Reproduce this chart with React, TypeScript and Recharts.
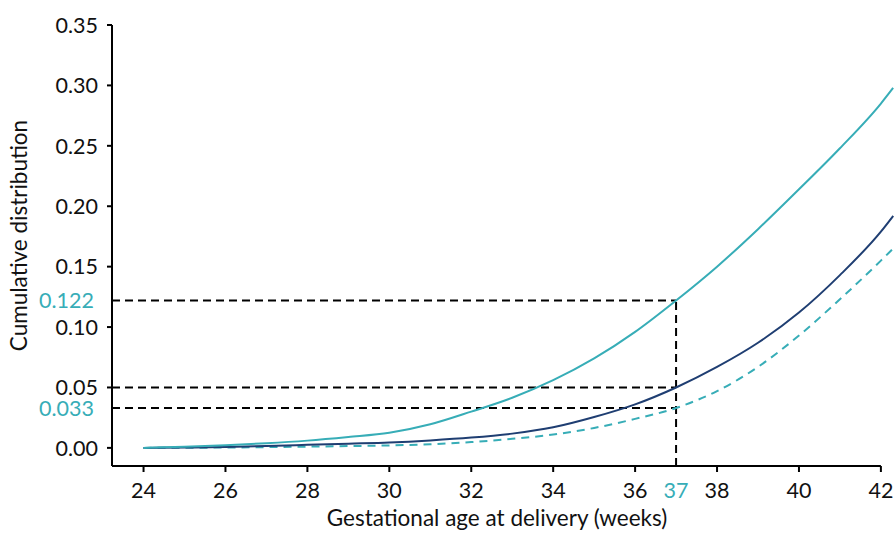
import { LineChart, Line, XAxis, YAxis, ReferenceLine } from 'recharts';

// gestational age (weeks); last point is where the curves leave the frame
const weeks = [24, 25, 26, 27, 28, 29, 30, 31, 32, 33, 34, 35, 36, 37, 38, 39, 40, 41, 42, 42.3];
const tealSolid = [0, 0.001, 0.0022, 0.0038, 0.006, 0.009, 0.0125, 0.0195, 0.03, 0.0415, 0.056, 0.074, 0.096, 0.122, 0.15, 0.181, 0.214, 0.248, 0.285, 0.298];
const navySolid = [0, 0.0003, 0.0008, 0.0015, 0.0025, 0.0035, 0.0045, 0.0062, 0.0085, 0.0118, 0.017, 0.0255, 0.036, 0.05, 0.067, 0.087, 0.112, 0.143, 0.179, 0.192];
const tealDashed = [0, 0.0001, 0.0003, 0.0006, 0.001, 0.0015, 0.002, 0.003, 0.0048, 0.0075, 0.011, 0.0165, 0.024, 0.033, 0.047, 0.067, 0.093, 0.123, 0.155, 0.165];

const xTicks = [24, 26, 28, 30, 32, 34, 36, 37, 38, 40, 42];
const yTicks = [0, 0.033, 0.05, 0.1, 0.122, 0.15, 0.2, 0.25, 0.3, 0.35];
const cutoffWeek = 37;
const cutoffValues = [0.122, 0.05, 0.033];
const highlightY = [0.122, 0.033];

const X_MIN = 23.23;
const X_MAX = 42.32;
const X_AXIS_END = 42;
const Y_MIN = -0.015;
const Y_MAX = 0.35;

const TEAL = '#37adb7';
const NAVY = '#1f3e72';
const FONT = 'Lato, "Open Sans", sans-serif';
const TICK_FS = 21.5;
const TITLE_FS = 22.5;

const rows = weeks.map((w, i) => ({
  week: w,
  teal: tealSolid[i],
  navy: navySolid[i],
  dashed: tealDashed[i],
}));

function YTick(props: any) {
  const { x, y, payload } = props;
  const v = payload.value as number;
  const hi = highlightY.includes(v);
  return (
    <g>
      {!hi && <line x1={x + 9} x2={x + 14} y1={y} y2={y} stroke="#000" strokeWidth={2} />}
      <text
        x={hi ? x - 4 : x}
        y={y}
        dy="0.36em"
        textAnchor="end"
        fill={hi ? TEAL : '#111'}
        fontSize={TICK_FS}
        fontFamily={FONT}
      >
        {hi ? v.toFixed(3) : v.toFixed(2)}
      </text>
    </g>
  );
}

function XTick(props: any) {
  const { x, y, payload } = props;
  const v = payload.value as number;
  const hi = v === cutoffWeek;
  return (
    <g>
      {!hi && <line x1={x} x2={x} y1={y - 16} y2={y - 10} stroke="#000" strokeWidth={2} />}
      <text
        x={x}
        y={y}
        dy="0.73em"
        textAnchor="middle"
        fill={hi ? TEAL : '#111'}
        fontSize={TICK_FS}
        fontFamily={FONT}
      >
        {v}
      </text>
    </g>
  );
}

function YTitle(props: any) {
  const vb = props.viewBox;
  const cx = vb.x + 27;
  const cy = vb.y + vb.height / 2 - 10;
  return (
    <text
      x={cx}
      y={cy}
      transform={`rotate(-90, ${cx}, ${cy})`}
      textAnchor="middle"
      fill="#111"
      fontSize={TITLE_FS}
      fontFamily={FONT}
    >
      Cumulative distribution
    </text>
  );
}

export default function App() {
  return (
    <div style={{ position: 'absolute', left: 0, top: 0, width: 894, height: 534, background: '#fff', fontFamily: FONT }}>
      <LineChart width={894} height={534} data={rows} margin={{ top: 25, right: 0, left: 0, bottom: 0 }}>
        <XAxis
          dataKey="week"
          type="number"
          domain={[X_MIN, X_MAX]}
          ticks={xTicks}
          interval={0}
          height={68}
          axisLine={false}
          tickLine={false}
          tickSize={6}
          tickMargin={10}
          tick={<XTick />}
          label={{
            value: 'Gestational age at delivery (weeks)',
            position: 'insideBottom',
            offset: 8,
            dx: -6,
            fill: '#111',
            fontSize: TITLE_FS,
            fontFamily: FONT,
          }}
        />
        <YAxis
          type="number"
          domain={[Y_MIN, Y_MAX]}
          ticks={yTicks}
          interval={0}
          width={112}
          axisLine={{ stroke: '#000', strokeWidth: 2 }}
          tickLine={false}
          tickSize={5}
          tickMargin={9}
          tick={<YTick />}
          label={{ value: 'Cumulative distribution', content: <YTitle /> }}
        />
        <ReferenceLine
          segment={[{ x: X_MIN, y: Y_MIN }, { x: X_AXIS_END, y: Y_MIN }]}
          stroke="#000"
          strokeWidth={2}
        />
        {cutoffValues.map((v) => (
          <ReferenceLine
            key={v}
            segment={[{ x: X_MIN, y: v }, { x: cutoffWeek, y: v }]}
            stroke="#000"
            strokeWidth={2}
            strokeDasharray="8 5"
          />
        ))}
        <ReferenceLine
          segment={[{ x: cutoffWeek, y: Y_MIN }, { x: cutoffWeek, y: cutoffValues[0] }]}
          stroke="#000"
          strokeWidth={2}
          strokeDasharray="8 5"
        />
        <Line type="monotone" dataKey="dashed" stroke={TEAL} strokeWidth={2} strokeDasharray="8 6" dot={false} isAnimationActive={false} />
        <Line type="monotone" dataKey="navy" stroke={NAVY} strokeWidth={2} dot={false} isAnimationActive={false} />
        <Line type="monotone" dataKey="teal" stroke={TEAL} strokeWidth={2} dot={false} isAnimationActive={false} />
      </LineChart>
    </div>
  );
}
